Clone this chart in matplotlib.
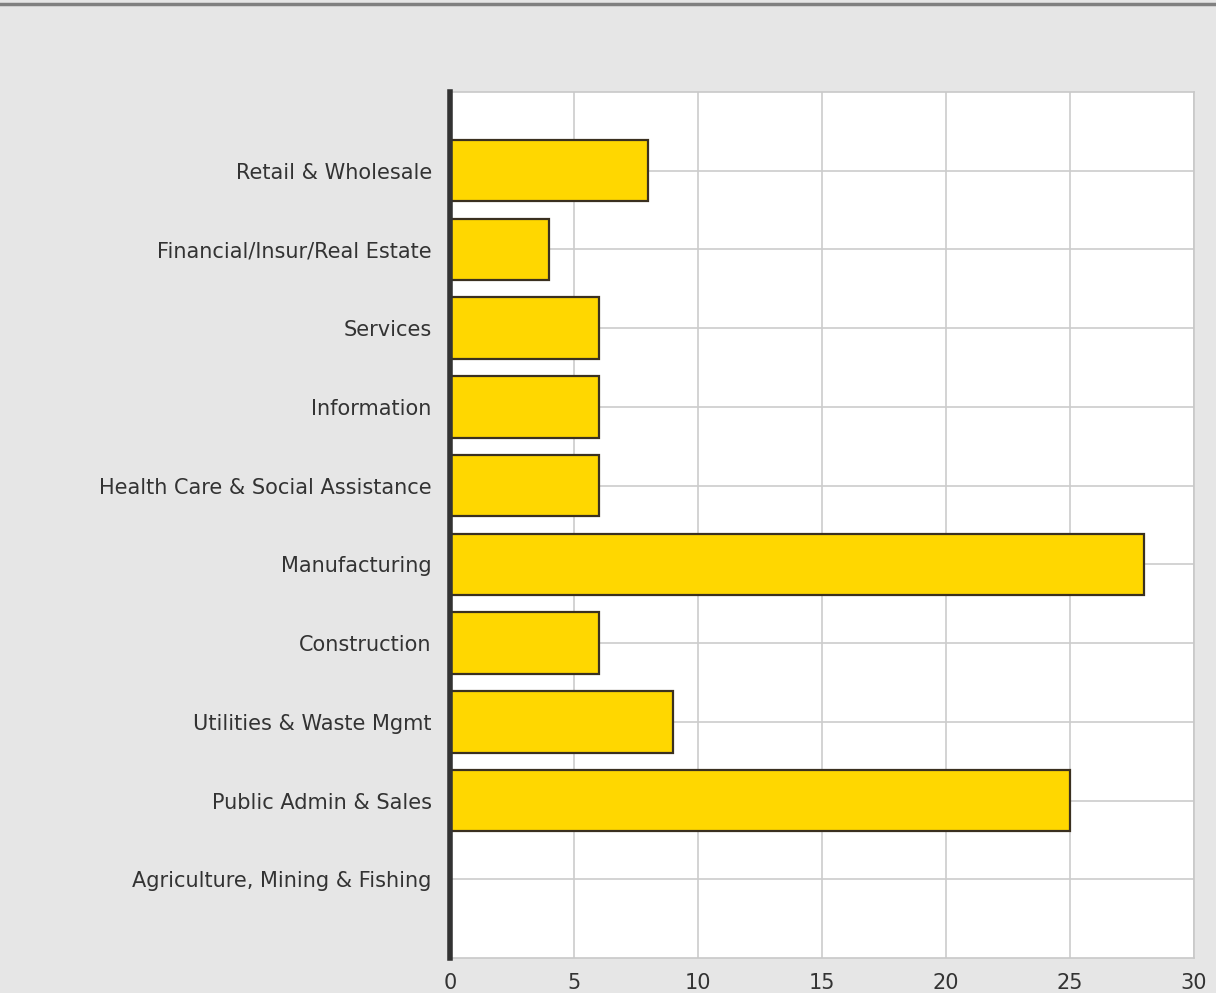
import matplotlib
matplotlib.use("Agg")
import matplotlib.pyplot as plt
from matplotlib.lines import Line2D

categories = ["Agriculture, Mining & Fishing", "Public Admin & Sales", "Utilities & Waste Mgmt",
              "Construction", "Manufacturing", "Health Care & Social Assistance",
              "Information", "Services", "Financial/Insur/Real Estate", "Retail & Wholesale"]
values = [0, 25, 9, 6, 28, 6, 6, 6, 4, 8]
xticks = [0, 5, 10, 15, 20, 25, 30]

fig = plt.figure(figsize=(12.16, 9.93), dpi=100, facecolor="#e6e6e6")
ax = fig.add_axes([0.370, 0.0352, 0.612, 0.8722])
ax.set_facecolor("white")

pos = list(range(len(categories)))
ax.barh(pos, values, height=0.78, color="#ffd700", edgecolor="#3a3020", linewidth=1.6, zorder=3)

ax.set_xlim(0, 30)
ax.set_ylim(-1, 10)
ax.set_xticks(xticks)
ax.set_yticks(pos)
ax.set_yticklabels(categories)
ax.grid(True, color="#cccccc", linewidth=1.2, zorder=0)
ax.tick_params(length=0, labelsize=15, labelcolor="#333333")
ax.tick_params(axis="y", pad=13)
ax.tick_params(axis="x", pad=11)

for side in ["top", "right", "bottom"]:
    ax.spines[side].set_color("#c8c8c8")
    ax.spines[side].set_linewidth(1.2)
ax.spines["left"].set_color("#333333")
ax.spines["left"].set_linewidth(4)
ax.spines["left"].set_zorder(5)

fig.add_artist(Line2D([0, 1], [0.9955, 0.9955], color="#808080", linewidth=2.5, transform=fig.transFigure))

fig.savefig("out.png", dpi=100, facecolor=fig.get_facecolor())
